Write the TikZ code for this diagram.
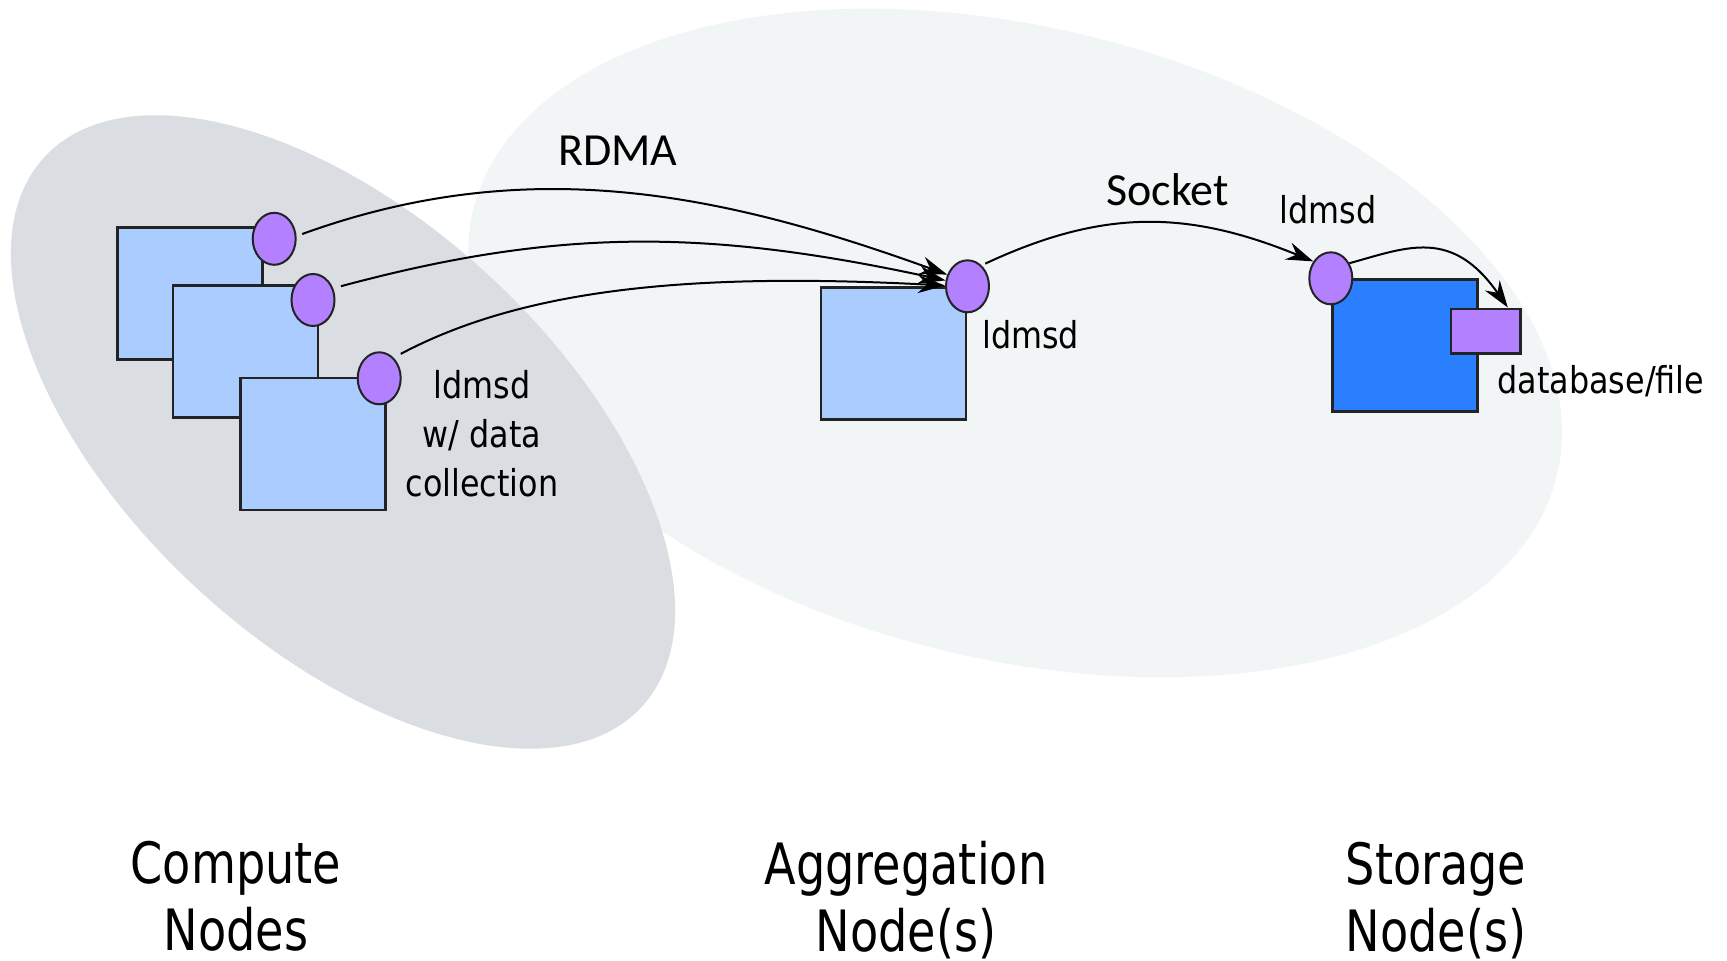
\documentclass[tikz,border=0pt]{standalone}
\usepackage{fontspec}
\usetikzlibrary{arrows.meta,shapes.geometric,calc}
\newfontfamily\labelfont[FakeStretch=0.86]{DejaVu Sans}
\newfontfamily\titlefont[FakeStretch=0.81]{DejaVu Sans}
\newfontfamily\linkfont{Carlito}
\definecolor{computebg}{RGB}{218,221,226}
\definecolor{serverbg}{RGB}{242,245,246}
\definecolor{hostblue}{RGB}{170,204,255}
\definecolor{storeblue}{RGB}{42,127,255}
\definecolor{daemon}{RGB}{179,128,255}
\definecolor{outline}{RGB}{35,35,35}
\begin{document}
\begin{tikzpicture}[x=1pt,y=-1pt,
  host/.style={rectangle, draw=outline, line width=2.5pt, fill=hostblue,
    minimum width=145pt, minimum height=132pt, inner sep=0pt},
  storehost/.style={host, fill=storeblue},
  ldmsd/.style={ellipse, draw=outline, line width=2pt, fill=daemon,
    minimum width=43pt, minimum height=52pt, inner sep=0pt},
  dbfile/.style={rectangle, draw=outline, line width=2.5pt, fill=daemon,
    minimum width=69.5pt, minimum height=44.5pt, inner sep=0pt},
  flow/.style={draw=black, line width=2pt,
    -{Stealth[length=27pt,width=18pt,inset=9pt]}},
  lab/.style={inner sep=0pt, align=center,
    font=\fontsize{37pt}{49pt}\selectfont\labelfont},
  linklab/.style={inner sep=0pt, font=\fontsize{46pt}{55pt}\selectfont\linkfont},
  tierlab/.style={inner sep=0pt, align=center,
    font=\fontsize{57pt}{67pt}\selectfont\titlefont}
]
% canvas
\fill[white] (0,0) rectangle (1727,961);
\useasboundingbox (0,0) rectangle (1727,961);

% tier backgrounds
\fill[serverbg, rotate around={-13.8:(1015,343)}] (1015,343) ellipse [x radius=557.8, y radius=315.7];
\fill[computebg, rotate around={-42.6:(343,432)}] (343,432) ellipse [x radius=405.9, y radius=214];

% compute nodes, each with its sampler daemon
\node[host]  (c1) at (190,293.7) {};
\node[ldmsd] (e1) at (274.2,238.8) {};
\node[host]  (c2) at (245.7,351.3) {};
\node[ldmsd] (e2) at (313,300) {};
\node[host]  (c3) at (313,443.8) {};
\node[ldmsd] (e3) at (379.2,378.3) {};

% aggregator
\node[host]  (agg)  at (893.3,353.3) {};
\node[ldmsd] (eagg) at (967.5,286.3) {};

% storage node
\node[storehost] (stor)  at (1405,345.3) {};
\node[ldmsd]     (estor) at (1330.8,278.3) {};
\node[dbfile]    (db)    at (1485.8,331) {};

% RDMA pulls
\draw[flow, shorten <=6pt] (e1.7) .. controls +(229,-83) and +(-229,-83) .. (eagg.150);
\draw[flow, shorten <=8pt] (e2.30) .. controls +(230,-62) and +(-233,-50) .. (eagg.165);
\draw[flow, shorten <=8pt] (e3.55) .. controls +(132,-70) and +(-250,-13) .. (eagg.178);

% socket transport and store
\draw[flow, shorten <=4pt] (eagg.56) .. controls +(122,-57) and +(-125,-51) .. (estor.136);
\draw[flow] (estor.39) .. controls +(58,-16) and +(-56,-80) .. ([xshift=-14pt]db.north east);

% labels (base anchor of a multi-line node sits on its last line)
\node[lab, anchor=base] (lc) at (482,496.7) {ldmsd\\w/ data\\collection};
\node[lab, anchor=base west] (la) at (982,348.3) {ldmsd};
\node[lab, anchor=base] (ls) at (1328.3,223.3) {ldmsd};
\node[lab, anchor=base] (ld) at (1600.8,393.3) {database/file};
\node[linklab, anchor=base] (lrdma) at (618,165) {RDMA};
\node[linklab, anchor=base] (lsock) at (1167.5,205) {Socket};

\node[tierlab, anchor=base] (tc) at (236,950) {Compute\\Nodes};
\node[tierlab, anchor=base] (ta) at (906,951) {Aggregation\\Node(s)};
\node[tierlab, anchor=base] (ts) at (1436,951) {Storage\\Node(s)};
\end{tikzpicture}
\end{document}
